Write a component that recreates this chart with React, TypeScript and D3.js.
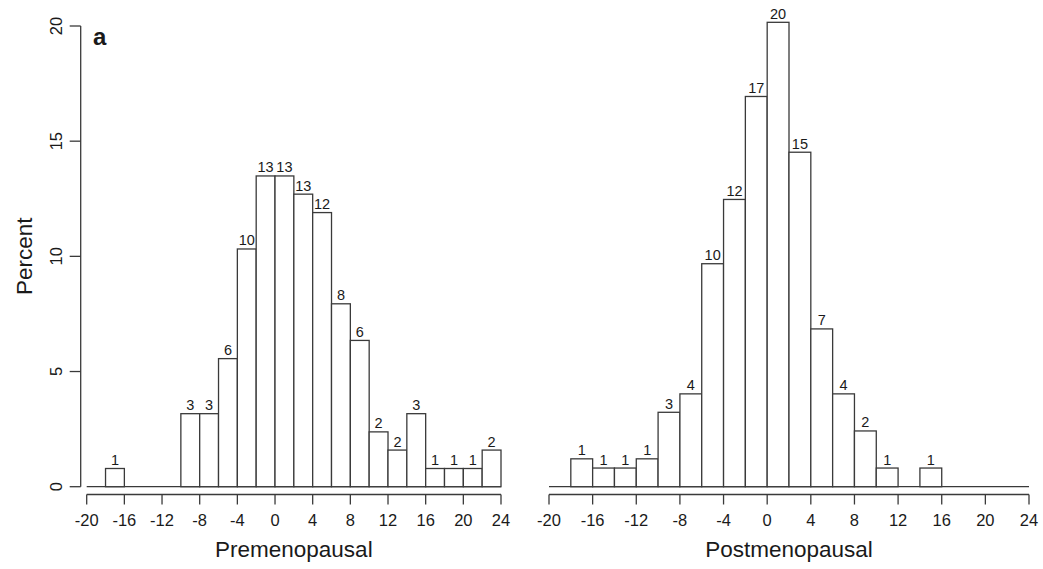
import React from 'react';
import * as d3 from 'd3';

// bin edges (width 2) shared by both panels
const binStarts = [-18, -16, -14, -12, -10, -8, -6, -4, -2, 0, 2, 4, 6, 8, 10, 12, 14, 16, 18, 20, 22];

// percent per bin
const prePercent = [0.79, 0, 0, 0, 3.17, 3.17, 5.56, 10.32, 13.49, 13.49, 12.7, 11.9, 7.94, 6.35, 2.38, 1.59, 3.17, 0.79, 0.79, 0.79, 1.59];
const postPercent = [1.21, 0.81, 0.81, 1.21, 3.23, 4.03, 9.68, 12.47, 16.94, 20.16, 14.52, 6.85, 4.03, 2.42, 0.81, 0, 0.81, 0, 0, 0, 0];

const xTicks = [-20, -16, -12, -8, -4, 0, 4, 8, 12, 16, 20, 24];
const yTicks = [0, 5, 10, 15, 20];

const FONT = '"Liberation Sans", Arial, sans-serif';
const STROKE = '#3a3a3a';
const TEXT = '#1a1a1a';

const y = d3.scaleLinear().domain([0, 20]).range([486.7, 26]);

const Panel = ({ values, range, title }) => {
  const x = d3.scaleLinear().domain([-20, 24]).range(range);
  const axisY = 494.5;
  return (
    <g>
      {/* baseline under the bars */}
      <line x1={x(-20)} x2={x(24)} y1={y(0)} y2={y(0)} stroke={STROKE} strokeWidth={1.3} />
      {binStarts.map((b, i) => {
        const v = values[i];
        if (!v) return null;
        return (
          <g key={b}>
            <rect x={x(b)} y={y(v)} width={x(b + 2) - x(b)} height={y(0) - y(v)}
              fill="#fff" stroke={STROKE} strokeWidth={1.3} />
            <text x={(x(b) + x(b + 2)) / 2} y={y(v) - 3.5} textAnchor="middle"
              fontSize={14.5} fill={TEXT}>{d3.format('.0f')(v)}</text>
          </g>
        );
      })}
      {/* x axis */}
      <line x1={x(-20)} x2={x(24)} y1={axisY} y2={axisY} stroke={STROKE} strokeWidth={1.3} />
      {xTicks.map(t => (
        <g key={t}>
          <line x1={x(t)} x2={x(t)} y1={axisY} y2={axisY + 10} stroke={STROKE} strokeWidth={1.3} />
          <text x={x(t)} y={526} textAnchor="middle" fontSize={16.5} fill={TEXT}>{t}</text>
        </g>
      ))}
      <text x={(range[0] + range[1]) / 2} y={557} textAnchor="middle" fontSize={22.5} fill={TEXT}>{title}</text>
    </g>
  );
};

const App = () => {
  const axisX = 80.7;
  return (
    <svg width={1043} height={569} style={{ position: 'absolute', left: 0, top: 0, background: '#fff' }}
      fontFamily={FONT}>
      {/* y axis */}
      <line x1={axisX} x2={axisX} y1={y(0)} y2={y(20)} stroke={STROKE} strokeWidth={1.3} />
      {yTicks.map(t => (
        <g key={t}>
          <line x1={axisX - 11} x2={axisX} y1={y(t)} y2={y(t)} stroke={STROKE} strokeWidth={1.3} />
          <text transform={`translate(61.5,${y(t)}) rotate(-90)`} textAnchor="middle"
            fontSize={16.5} fill={TEXT}>{t}</text>
        </g>
      ))}
      <text transform={`translate(31.5,${(y(0) + y(20)) / 2}) rotate(-90)`} textAnchor="middle"
        fontSize={22.5} fill={TEXT}>Percent</text>
      <text x={93} y={45} fontSize={24} fontWeight="bold" fill={TEXT}>a</text>

      <Panel values={prePercent} range={[86.7, 501]} title="Premenopausal" />
      <Panel values={postPercent} range={[549, 1029]} title="Postmenopausal" />
    </svg>
  );
};

export default App;
